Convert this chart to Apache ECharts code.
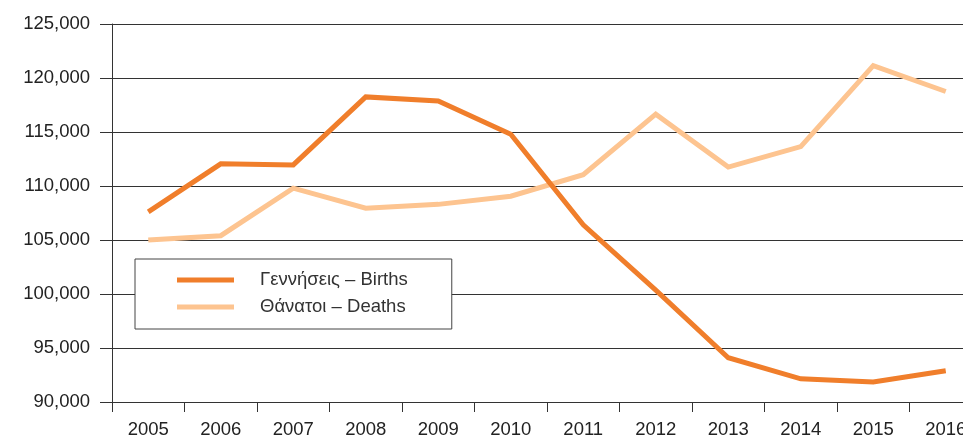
<!DOCTYPE html>
<html>
<head>
<meta charset="utf-8">
<script src="https://cdn.jsdelivr.net/npm/echarts@6/dist/echarts.min.js"></script>
<style>html,body{margin:0;padding:0;background:#fff;overflow:hidden}#c{width:963px;height:436px}</style>
</head>
<body>
<div id="c"></div>
<script>
var years = ['2005','2006','2007','2008','2009','2010','2011','2012','2013','2014','2015','2016'];
var births = [107600, 112050, 111950, 118250, 117870, 114800, 106400, 100350, 94100, 92150, 91850, 92900];
var deaths = [105000, 105400, 109800, 107950, 108300, 109050, 111050, 116650, 111750, 113650, 121150, 118750];
var birthsName = 'Γεννήσεις – Births';
var deathsName = 'Θάνατοι – Deaths';

var font = '"Liberation Sans", Arial, Helvetica, sans-serif';
var chart = echarts.init(document.getElementById('c'));
chart.setOption({
  animation: false,
  backgroundColor: '#fff',
  grid: { left: 112, top: 24, width: 870, height: 378, containLabel: false, outerBoundsMode: 'none' },
  legend: {
    orient: 'vertical',
    left: 135, top: 259,
    padding: [11, 44, 12, 42],
    itemGap: 7,
    itemWidth: 57, itemHeight: 5,
    icon: 'rect',
    backgroundColor: '#fff',
    borderColor: '#444', borderWidth: 1,
    textStyle: { fontFamily: font, fontSize: 18.5, lineHeight: 20, color: '#333', padding: [0, 0, 0, 21] },
    data: [birthsName, deathsName]
  },
  xAxis: {
    type: 'category',
    data: years,
    boundaryGap: true,
    axisLine: { show: true, lineStyle: { color: '#333', width: 1 } },
    axisTick: { show: true, length: 10, lineStyle: { color: '#333', width: 1 } },
    axisLabel: { fontFamily: font, fontSize: 18.5, color: '#222', margin: 18 },
    splitLine: { show: false }
  },
  yAxis: {
    type: 'value',
    min: 90000, max: 125000, interval: 5000,
    axisLine: { show: true, lineStyle: { color: '#333', width: 1 } },
    axisTick: { show: true, length: 12, lineStyle: { color: '#333', width: 1 } },
    axisLabel: {
      fontFamily: font, fontSize: 18.5, color: '#222', margin: 22,
      formatter: function (v) { return v.toString().replace(/\B(?=(\d{3})+(?!\d))/g, ','); }
    },
    splitLine: { show: true, lineStyle: { color: '#333', width: 1 } }
  },
  series: [
    {
      name: birthsName, type: 'line', data: births, symbol: 'none', z: 4,
      itemStyle: { color: '#F07E2B' },
      lineStyle: { color: '#F07E2B', width: 5, join: 'miter' }
    },
    {
      name: deathsName, type: 'line', data: deaths, symbol: 'none', z: 3,
      itemStyle: { color: '#FDC490' },
      lineStyle: { color: '#FDC490', width: 5, join: 'miter' }
    }
  ]
});
</script>
</body>
</html>
